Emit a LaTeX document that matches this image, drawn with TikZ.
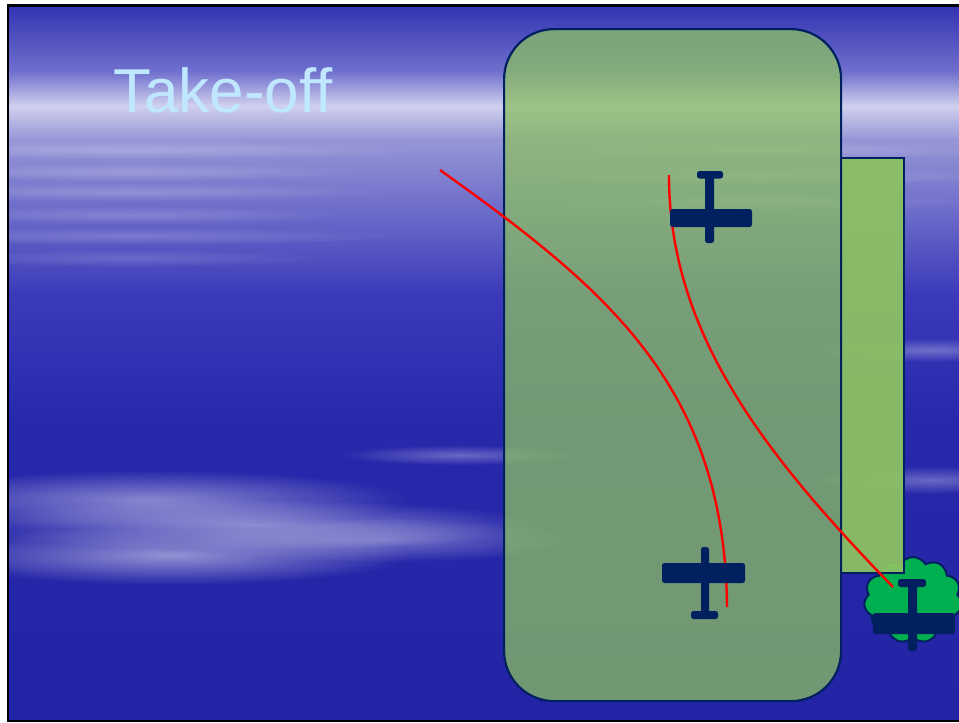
\documentclass[tikz,border=0pt]{standalone}
\usepackage{fontspec}
\setmainfont{Liberation Sans}
\usetikzlibrary{fadings,shapes.symbols}
\definecolor{navy}{RGB}{0,32,96}
\definecolor{fieldgreen}{RGB}{140,192,99}
\definecolor{treegreen}{RGB}{0,176,80}
\definecolor{titleblue}{RGB}{191,232,255}
\definecolor{skyA}{RGB}{50,50,178}
\definecolor{skyB}{RGB}{112,112,206}
\definecolor{skyC}{RGB}{208,208,238}
\definecolor{skyD}{RGB}{150,150,215}
\definecolor{skyE}{RGB}{58,58,186}
\definecolor{skyF}{RGB}{40,40,172}
\definecolor{skyG}{RGB}{35,35,165}
\tikzfading[name=softblob, inner color=transparent!0, outer color=transparent!100]
\tikzset{
  planepart/.style={fill=navy, rounded corners=2.5pt},
  track/.style={draw=red, line width=2.4pt},
  haze/.style={fill=white, path fading=softblob},
}
\begin{document}
\begin{tikzpicture}[x=1pt,y=-1pt]
\useasboundingbox (0,0) rectangle (959,723);
% sky
\fill[top color=skyA, bottom color=skyB] (8,5) rectangle (960,72);
\fill[top color=skyB, bottom color=skyC] (8,71.5) rectangle (960,106);
\fill[top color=skyC, bottom color=skyD] (8,105.5) rectangle (960,140);
\fill[top color=skyD, bottom color=skyE] (8,139.5) rectangle (960,295);
\fill[top color=skyE, bottom color=skyF] (8,294.5) rectangle (960,420);
\fill[top color=skyF, bottom color=skyG] (8,419.5) rectangle (960,721);
% soft streaks below the bright band
\foreach \y/\w/\o in {150/300/0.22,172/240/0.2,192/260/0.2,215/220/0.18,236/280/0.18,258/200/0.15}
  \fill[haze, opacity=\o] (130,\y) ellipse ({\w} and 9);
\foreach \y/\w/\o in {150/250/0.2,176/260/0.18,202/230/0.16}
  \fill[haze, opacity=\o] (760,\y) ellipse ({\w} and 9);
% lower cloud bank
\fill[haze, opacity=0.45] (150,500) ellipse (260 and 30);
\fill[haze, opacity=0.45] (250,525) ellipse (300 and 25);
\fill[haze, opacity=0.5] (170,555) ellipse (240 and 30);
\fill[haze, opacity=0.35] (380,540) ellipse (200 and 22);
\fill[haze, opacity=0.3] (460,455) ellipse (120 and 10);
\fill[haze, opacity=0.3] (930,350) ellipse (120 and 12);
\fill[haze, opacity=0.3] (930,480) ellipse (120 and 14);
% frame
\draw[black, line width=2.5pt] (8,5.3) rectangle (962,721);
% title
\node[anchor=base west, inner sep=0pt, text=titleblue, font=\fontsize{62}{62}\selectfont] (title) at (113,112) {Take-off};
% tree behind the strip
\node[cloud, cloud puffs=11, cloud puff arc=120, aspect=1.15, draw=navy, line width=2pt, fill=treegreen,
      minimum width=98pt, minimum height=86pt, inner sep=0pt] (tree) at (913,600) {};
% strip beside the field
\node[draw=navy, line width=2.2pt, fill=fieldgreen, fill opacity=0.95, minimum width=63pt, minimum height=415pt,
      inner sep=0pt, anchor=north west] (strip) at (840,157) {};
% airfield
\node[draw=navy, line width=2.2pt, fill=fieldgreen, fill opacity=0.75, rounded corners=50pt,
      minimum width=337pt, minimum height=672pt, inner sep=0pt, anchor=north west] (field) at (503,28) {};
% flight paths
\coordinate (p1s) at (440,170);
\coordinate (p1e) at (727,607);
\coordinate (p2s) at (669,175);
\coordinate (p2e) at (893,587);
\draw[track] (p1s) .. controls (605,288) and (725,385) .. (p1e);
\draw[track] (p2s) .. controls (669,330) and (760,450) .. (p2e);
% aircraft on the field (top)
\fill[planepart] (697,171) rectangle (723,178.5);
\fill[planepart] (705,171) rectangle (714,243);
\fill[planepart] (670,209) rectangle (752,227);
% aircraft on the field (bottom)
\fill[planepart] (691,611) rectangle (718,619);
\fill[planepart] (701,547) rectangle (709,618);
\fill[planepart] (662,563) rectangle (745,583);
% aircraft over the tree
\fill[planepart] (898,579) rectangle (926,587);
\fill[planepart] (908,579) rectangle (917,651);
\fill[planepart] (873,613) rectangle (955,634);
\end{tikzpicture}
\end{document}
